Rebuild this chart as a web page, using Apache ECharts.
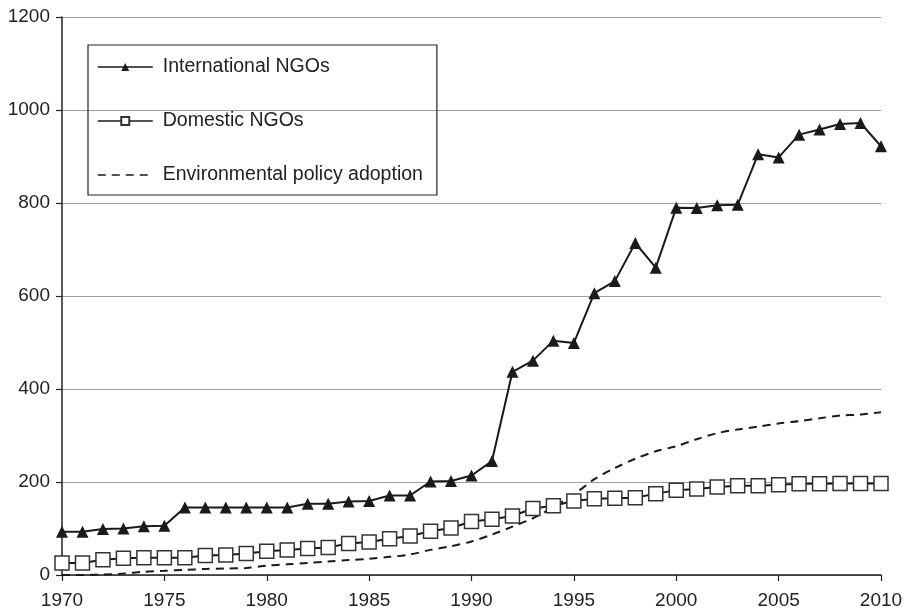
<!DOCTYPE html>
<html>
<head>
<meta charset="utf-8">
<script src="https://cdn.jsdelivr.net/npm/echarts@6/dist/echarts.min.js"></script>
<style>html,body{margin:0;padding:0;background:#fff}#c{width:910px;height:614px}</style>
</head>
<body>
<div id="c"></div>
<script>
const years = [1970,1971,1972,1973,1974,1975,1976,1977,1978,1979,1980,1981,1982,1983,1984,1985,1986,1987,1988,1989,1990,1991,1992,1993,1994,1995,1996,1997,1998,1999,2000,2001,2002,2003,2004,2005,2006,2007,2008,2009,2010];
const internationalNGOs = [93,93,99,100,105,106,145,145,145,145,145,145,153,153,158,159,171,171,201,202,214,245,437,461,504,499,606,632,714,661,790,789,795,796,905,898,947,958,970,972,922];
const domesticNGOs = [26,26,33,36,37,37,37,42,43,46,51,54,57,59,68,71,78,84,94,101,115,120,127,143,149,159,164,165,166,175,182,185,189,192,192,194,196,196,197,197,197];
const policyAdoption = [0,0,1,3,7,9,11,13,14,15,20,23,26,29,32,35,39,44,54,62,72,87,104,122,146,173,206,230,250,266,277,292,305,313,319,326,331,337,343,345,350];
const seriesNames = ['International NGOs','Domestic NGOs','Environmental policy adoption'];

const pair = arr => years.map((y,i)=>[y,arr[i]]);
const FONT = '"Liberation Sans Narrow","Arial Narrow","Liberation Sans",Arial,sans-serif';
const chart = echarts.init(document.getElementById('c'), null, {renderer:'canvas'});
chart.setOption({
  animation:false,
  backgroundColor:'#fff',
  grid:{left:62,right:29,top:17,bottom:39,containLabel:false},
  legend:{
    left:88, top:45, orient:'vertical',
    padding:[12,14,10,9],
    itemGap:34, itemWidth:55, itemHeight:10,
    borderColor:'#222', borderWidth:1.2, borderRadius:0,
    lineStyle:{width:1.5},
    textStyle:{fontFamily:FONT,fontSize:19.5,color:'#222',padding:[0,0,0,5]},
    data:[
      {name:seriesNames[0]},
      {name:seriesNames[1]},
      {name:seriesNames[2],itemStyle:{opacity:0}}
    ]
  },
  xAxis:{
    type:'value', min:1970, max:2010, interval:5,
    axisLine:{show:true,lineStyle:{color:'#222',width:1.5}},
    axisTick:{show:true,length:6,lineStyle:{color:'#222',width:1.2}},
    axisLabel:{fontFamily:FONT,fontSize:19,color:'#222',margin:16,formatter:v=>String(v)},
    splitLine:{show:false}
  },
  yAxis:{
    type:'value', min:0, max:1200, interval:200,
    axisLine:{show:true,lineStyle:{color:'#222',width:1.5}},
    axisTick:{show:true,length:6,lineStyle:{color:'#222',width:1.2}},
    axisLabel:{fontFamily:FONT,fontSize:19,color:'#222',margin:12,formatter:v=>String(v)},
    splitLine:{show:true,lineStyle:{color:'#a0a0a0',width:1.2}}
  },
  series:[
    {name:seriesNames[0],type:'line',data:pair(internationalNGOs),
     symbol:'triangle',symbolSize:12,
     lineStyle:{color:'#1a1a1a',width:2},
     itemStyle:{color:'#1a1a1a',borderColor:'#1a1a1a',borderWidth:0},z:3},
    {name:seriesNames[1],type:'line',data:pair(domesticNGOs),
     symbol:'rect',symbolSize:14,
     lineStyle:{color:'#1a1a1a',width:2},
     itemStyle:{color:'#fff',borderColor:'#333',borderWidth:1.5},z:4},
    {name:seriesNames[2],type:'line',data:pair(policyAdoption),
     symbol:'none',smooth:0.3,showSymbol:false,
     lineStyle:{color:'#1a1a1a',width:2,type:[8,6]},
     itemStyle:{color:'#1a1a1a'},z:2}
  ]
});
</script>
</body>
</html>
